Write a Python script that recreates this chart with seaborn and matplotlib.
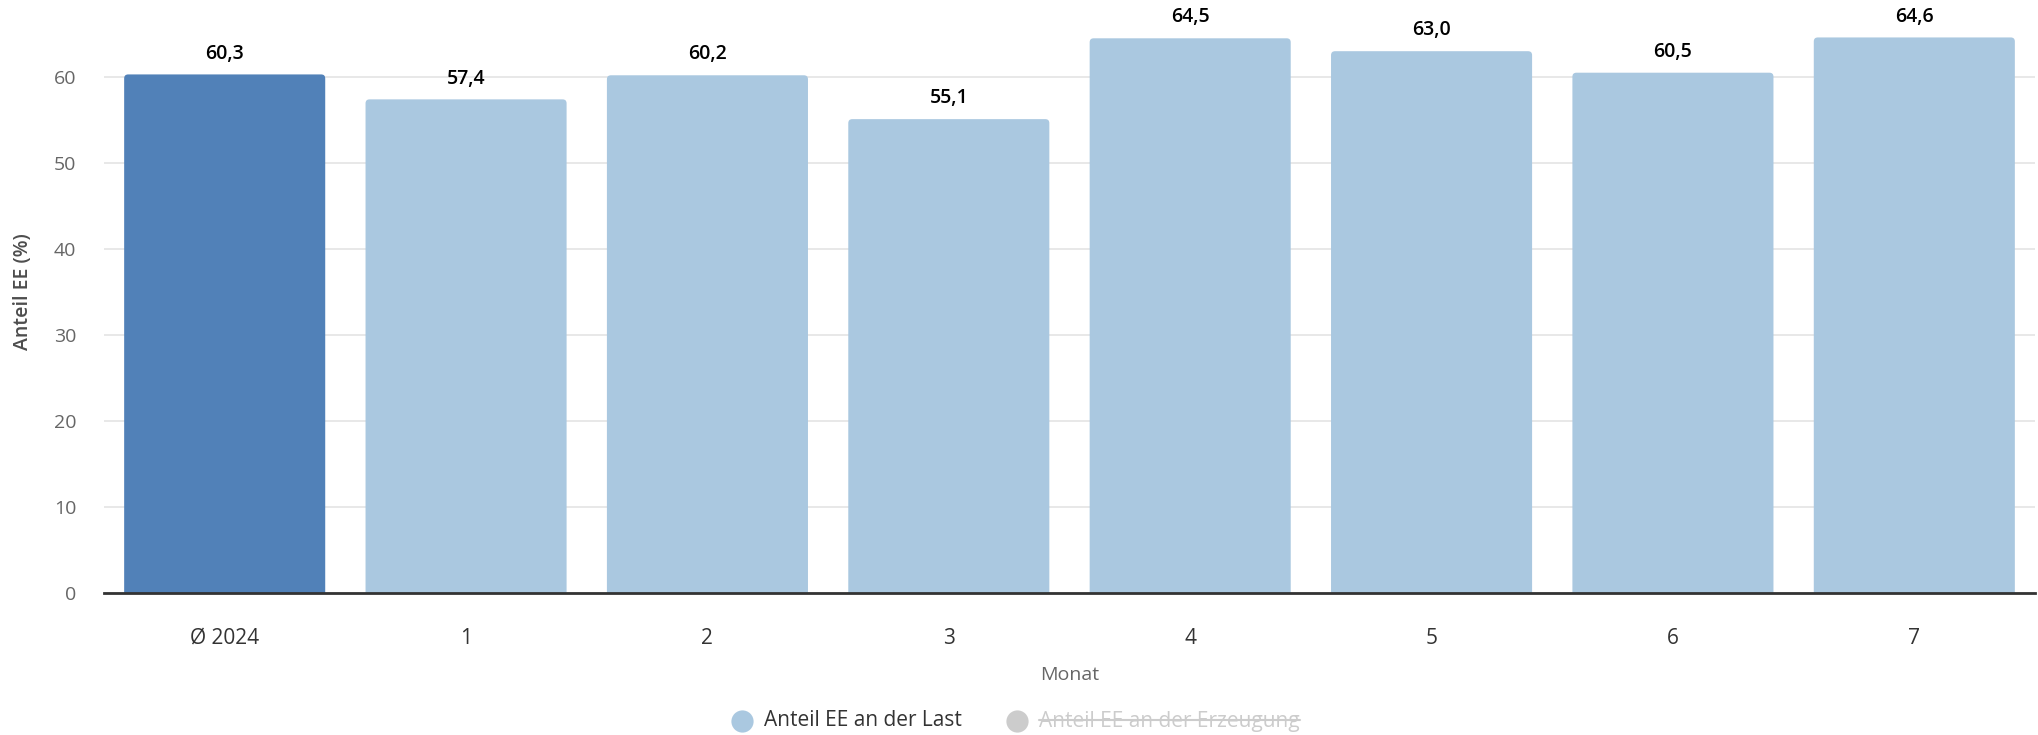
import matplotlib
matplotlib.use("Agg")
import matplotlib.pyplot as plt
import seaborn as sns
import pandas as pd
from matplotlib.patches import FancyBboxPatch
from matplotlib.lines import Line2D

# Monthly share of renewables in load, plus the yearly average
categories = ["Ø 2024", "1", "2", "3", "4", "5", "6", "7"]
share_load = [60.3, 57.4, 60.2, 55.1, 64.5, 63.0, 60.5, 64.6]
kinds = ["avg", "month", "month", "month", "month", "month", "month", "month"]
legend_labels = ["Anteil EE an der Last", "Anteil EE an der Erzeugung"]

df = pd.DataFrame({"Monat": categories, "Anteil": share_load, "kind": kinds})

sns.set_theme(style="white")
plt.rcParams["font.family"] = ["Open Sans", "DejaVu Sans"]

DARK = "#5181b8"
LIGHT = "#aac8e0"
HIDDEN = "#cccccc"

W, H = 2038, 735
fig = plt.figure(figsize=(W / 100, H / 100), dpi=100)
ax = fig.add_axes([104 / W, 1 - 593 / H, (2035 - 104) / W, (593 - 34) / H])

sns.barplot(data=df, x="Monat", y="Anteil", hue="kind",
            palette={"avg": DARK, "month": LIGHT}, width=0.833,
            dodge=False, legend=False, ax=ax, saturation=1)

ax.set_ylim(0, 65)
ax.set_xlim(-0.5, len(categories) - 0.5)

# swap the plain rectangles for ones with softly rounded top corners
px_x = (2035 - 104) / len(categories)   # pixels per x unit
px_y = (593 - 34) / 65                  # pixels per y unit
radius_px = 4
for p in list(ax.patches):
    x, y = p.get_x(), p.get_y()
    w, h = p.get_width(), p.get_height()
    if h == 0:
        continue
    fc = p.get_facecolor()
    p.remove()
    rb = FancyBboxPatch((x, y - 2), w, h + 2,
                        boxstyle=f"round,pad=0,rounding_size={radius_px / px_x}",
                        mutation_aspect=px_x / px_y, facecolor=fc,
                        edgecolor="none", zorder=2)
    ax.add_patch(rb)
    rb.set_clip_path(ax.patch)

ax.set_yticks([0, 10, 20, 30, 40, 50, 60])
ax.yaxis.grid(True, color="#e6e6e6", linewidth=1.3)
ax.set_axisbelow(True)
for s in ["top", "right", "left"]:
    ax.spines[s].set_visible(False)
ax.spines["bottom"].set_color("#333333")
ax.spines["bottom"].set_linewidth(2)
ax.spines["bottom"].set_zorder(3)

ax.tick_params(axis="y", length=0, labelsize=14, labelcolor="#666666", pad=20)
ax.tick_params(axis="x", length=0, labelsize=15, labelcolor="#333333", pad=25)

ax.set_ylabel("Anteil EE (%)", fontsize=14, color="#4d4d4d", fontweight="semibold")
ax.yaxis.set_label_coords((23 - 104) / (2035 - 104), (593 - 292) / (593 - 34))
ax.yaxis.label.set_verticalalignment("center")
ax.set_xlabel("Monat", fontsize=14, color="#666666", labelpad=12.5)

for i, v in enumerate(share_load):
    ax.annotate(f"{v:.1f}".replace(".", ","), (i, v), xytext=(0, 15),
                textcoords="offset points", ha="center", va="center",
                fontsize=14, fontweight="semibold", color="#000000",
                annotation_clip=False)

# legend: one visible series, one hidden (struck through)
ly = 1 - 721 / H
fig.add_artist(Line2D([742 / W], [ly], marker="o", markersize=16, color=LIGHT,
                      markeredgewidth=0, linestyle="none", transform=fig.transFigure))
t1 = fig.text(764 / W, ly, legend_labels[0], fontsize=15,
              color="#333333", ha="left", va="center", fontweight="medium")
fig.canvas.draw()
x_end = t1.get_window_extent().x1
x2 = x_end + 55
fig.add_artist(Line2D([x2 / W], [ly], marker="o", markersize=16, color=HIDDEN,
                      markeredgewidth=0, linestyle="none", transform=fig.transFigure))
t2 = fig.text((x2 + 22) / W, ly, legend_labels[1], fontsize=15,
              color=HIDDEN, ha="left", va="center", fontweight="medium")
fig.canvas.draw()
bb = t2.get_window_extent()
fig.add_artist(Line2D([bb.x0 / W, bb.x1 / W], [ly + 1 / H, ly + 1 / H],
                      color=HIDDEN, linewidth=1.5, transform=fig.transFigure))

fig.savefig("out.png", dpi=100)
